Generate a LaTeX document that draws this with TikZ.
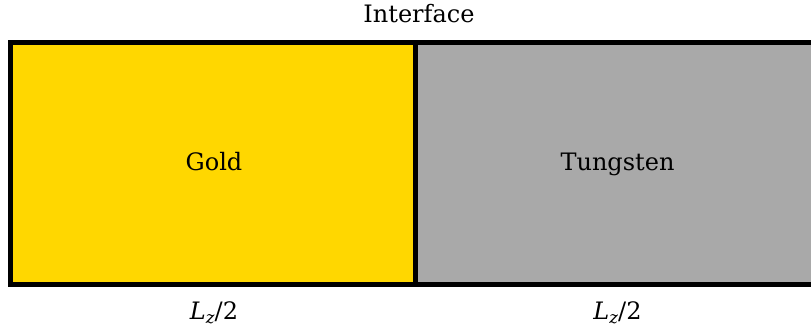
\documentclass[tikz,border=0pt]{standalone}
\usepackage{fontspec}
\setmainfont{DejaVu Serif}
\definecolor{gold}{RGB}{255,215,0}
\definecolor{tungsten}{RGB}{169,169,169}
\newcommand{\halflen}{\textit{L}\raisebox{-4pt}{\fontsize{16.5}{19}\selectfont\textit{z}}/2}
\begin{document}
\begin{tikzpicture}[x=1pt,y=-1pt,
  slab/.style={draw=black,line width=5pt},
  lbl/.style={font=\fontsize{24}{28}\selectfont,inner sep=0pt,anchor=base}]
\useasboundingbox (0,0) rectangle (811,328);
\clip (0,0) rectangle (811,328);
% two material slabs meeting at the interface
\filldraw[slab,fill=gold] (10.5,42.5) rectangle (415.5,284.5);
\filldraw[slab,fill=tungsten] (415.5,42.5) rectangle (830,284.5);
\node[lbl] (iface) at (419,23) {Interface};
\node[lbl] (gold) at (214,171) {Gold};
\node[lbl] (tung) at (617.5,171) {Tungsten};
\node[lbl] (lg) at (214,320) {\halflen};
\node[lbl] (lt) at (617.5,320) {\halflen};
\end{tikzpicture}
\end{document}
